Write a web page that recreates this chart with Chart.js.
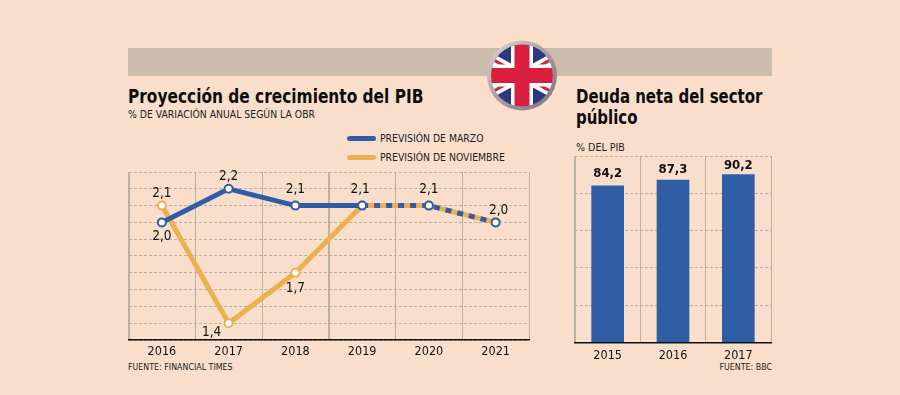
<!DOCTYPE html>
<html lang="es">
<head>
  <meta charset="UTF-8" />
  <title>Proyección de crecimiento del PIB</title>
  <script src="https://cdn.jsdelivr.net/npm/chart.js"></script>
  <style>
    html, body { margin: 0; padding: 0; }
    body {
      position: relative;
      width: 900px;
      height: 395px;
      overflow: hidden;
      background: #f9dfcb;
      color: #111;
      font-family: 'DejaVu Sans', sans-serif;
    }
    canvas, .txt, .band, svg { position: absolute; }
    .band { left: 128px; top: 48px; width: 644px; height: 28px; background: #ccbcae; }
    .txt { white-space: nowrap; }
    .title { font: bold 19px 'DejaVu Sans Condensed', 'DejaVu Sans', sans-serif; color: #0c0c0c; transform-origin: left top; }
    .small { font: 10.35px 'DejaVu Sans Condensed', 'DejaVu Sans', sans-serif; color: #222; }
    .fuente { font-size: 8.8px; }
    .key { position: absolute; left: 347px; width: 29px; height: 5px; border-radius: 3px; }
  </style>
</head>
<body>
  <div class="band"></div>

  <div class="txt title" style="left:128px;top:85px;transform:scaleX(.9)">Proyección de crecimiento del PIB</div>
  <div class="txt small" style="left:128px;top:108px">% DE VARIACIÓN ANUAL SEGÚN LA OBR</div>
  <div class="key" style="top:136px;background:#2f5da6"></div>
  <div class="txt small" style="left:380px;top:132px">PREVISIÓN DE MARZO</div>
  <div class="key" style="top:155px;background:#ecb04f"></div>
  <div class="txt small" style="left:380px;top:151px">PREVISIÓN DE NOVIEMBRE</div>
  <div class="txt small fuente" style="left:128px;top:362px">FUENTE: FINANCIAL TIMES</div>

  <div class="txt title" style="left:576px;top:85px;transform:scaleX(.875)">Deuda neta del sector</div>
  <div class="txt title" style="left:576px;top:106px;transform:scaleX(.875)">público</div>
  <div class="txt small" style="left:576px;top:141px;font-size:10.6px">% DEL PIB</div>
  <div class="txt small fuente" style="right:128px;top:362px">FUENTE: BBC</div>

  <canvas id="graficoPib" style="left:100px;top:160px"></canvas>
  <canvas id="graficoDeuda" style="left:550px;top:145px"></canvas>

  <svg style="left:482px;top:35px" width="80" height="80" viewBox="0 0 80 80">
    <defs>
      <linearGradient id="aro" x1="0" y1="0" x2="1" y2="1">
        <stop offset="0" stop-color="#e3d8d4" />
        <stop offset="0.5" stop-color="#a89c9e" />
        <stop offset="1" stop-color="#7d7377" />
      </linearGradient>
      <clipPath id="disco"><circle cx="40" cy="40.5" r="31" /></clipPath>
    </defs>
    <circle cx="40" cy="40.5" r="35" fill="url(#aro)" />
    <g clip-path="url(#disco)">
      <rect width="80" height="80" fill="#2b3a7c" />
      <path d="M0 18.5L80 62.5M80 18.5L0 62.5" stroke="#fff" stroke-width="10.5" />
      <path d="M0 18.5L80 62.5M80 18.5L0 62.5" stroke="#d81f3f" stroke-width="3" />
      <rect x="29" width="22" height="80" fill="#fff" />
      <rect y="29.5" width="80" height="22" fill="#fff" />
      <rect x="32.5" width="15" height="80" fill="#d81f3f" />
      <rect y="33" width="80" height="15" fill="#d81f3f" />
    </g>
  </svg>

  <script>
    const anios = ['2016', '2017', '2018', '2019', '2020', '2021'];
    const marzo = [2.0, 2.2, 2.1, 2.1, 2.1, 2.0];
    const noviembre = [2.1, 1.4, 1.7, 2.1, 2.1, 2.0];
    const ticksPib = [1.3, 1.4, 1.5, 1.6, 1.7, 1.8, 1.9, 2.0, 2.1, 2.2, 2.3];

    const aniosDeuda = ['2015', '2016', '2017'];
    const deuda = [84.2, 87.3, 90.2];
    const ticksDeuda = [0, 20, 40, 60, 80, 100];

    const AZUL = '#2f5da6';
    const NARANJA = '#ecb04f';
    const GRIS = '#bdb0a5';
    const PUNTOS = '#bcaea2';
    const FUENTE = "'DejaVu Sans Condensed', 'DejaVu Sans', sans-serif";

    function coma(v) { return v.toFixed(1).replace('.', ','); }

    // pone los numeros sobre los puntos; dx/dy por serie y punto
    const etiquetas = {
      id: 'etiquetas',
      afterDatasetsDraw(chart) {
        const c = chart.ctx;
        chart.data.datasets.forEach((ds, i) => {
          const meta = chart.getDatasetMeta(i);
          meta.data.forEach((p, j) => {
            const o = ds.offsets[j];
            if (!o) return;
            c.save();
            c.font = ds.labelFont || '13.5px ' + FUENTE;
            c.fillStyle = '#111';
            c.textAlign = 'center';
            c.textBaseline = 'middle';
            c.fillText(coma(ds.data[j]), p.x + o[0], p.y + o[1]);
            c.restore();
          });
        });
      }
    };

    function setSize(id, w, h) {
      const el = document.getElementById(id);
      el.width = w;
      el.height = h;
      el.style.width = w + 'px';
      el.style.height = h + 'px';
      return el;
    }

    function ejeX(labels, alto, pad, colorGrid, anchoGrid) {
      return {
        type: 'category',
        labels: labels,
        offset: true,
        grid: { color: colorGrid, lineWidth: anchoGrid, drawTicks: false, offset: true },
        border: { color: '#111', width: 1.5 },
        ticks: { color: '#111', font: { family: FUENTE, size: 12.5 }, maxRotation: 0, padding: pad },
        afterFit(s) { s.height = alto; }
      };
    }

    function ejeY(min, max, ticks) {
      return {
        min: min,
        max: max,
        grid: { color: PUNTOS, lineWidth: 1, drawTicks: false },
        border: { display: false, dash: [3, 2] },
        ticks: { display: false },
        afterFit(s) { s.width = 0; },
        afterBuildTicks(s) { s.ticks = ticks.map(v => ({ value: v })); }
      };
    }

    new Chart(setSize('graficoPib', 440, 205), {
      type: 'line',
      data: {
        labels: anios,
        datasets: [
          {
            label: 'PREVISIÓN DE MARZO',
            data: marzo,
            borderColor: AZUL,
            backgroundColor: '#fff',
            borderWidth: 5,
            tension: 0,
            pointRadius: 4,
            pointBorderWidth: 2,
            pointBorderColor: AZUL,
            pointBackgroundColor: '#fff',
            segment: { borderDash: ctx => ctx.p0DataIndex >= 3 ? [6, 6] : undefined },
            offsets: [[0, 14], [0, -12], [0, -16], [-2, -16], [0, -16], [3, -12]]
          },
          {
            label: 'PREVISIÓN DE NOVIEMBRE',
            data: noviembre,
            borderColor: NARANJA,
            backgroundColor: '#fff',
            borderWidth: 5,
            tension: 0,
            pointRadius: 4,
            pointBorderWidth: 2,
            pointBorderColor: NARANJA,
            pointBackgroundColor: '#fff',
            offsets: [[0, -12], [-17, 9], [0, 16], null, null, null]
          }
        ]
      },
      options: {
        responsive: false,
        animation: false,
        layout: { padding: { left: 28.5, right: 11, top: 12, bottom: 0 } },
        plugins: { legend: { display: false }, tooltip: { enabled: false } },
        scales: {
          // la ultima vertical no se dibuja; la primera y la del medio van mas gruesas
          x: ejeX(anios, 25, 4,
            ctx => ctx.index === anios.length ? 'rgba(0,0,0,0)' : GRIS,
            ctx => (ctx.index === 0 || ctx.index === 3) ? 2 : 1),
          y: ejeY(1.3, 2.3, ticksPib)
        }
      },
      plugins: [etiquetas]
    });

    new Chart(setSize('graficoDeuda', 240, 225), {
      type: 'bar',
      data: {
        labels: aniosDeuda,
        datasets: [{
          label: '% DEL PIB',
          data: deuda,
          backgroundColor: AZUL,
          categoryPercentage: 1,
          barPercentage: 0.5,
          labelFont: 'bold 13px ' + FUENTE,
          offsets: [[0, -12], [0, -10], [0, -9]]
        }]
      },
      options: {
        responsive: false,
        animation: false,
        layout: { padding: { left: 25, right: 19, top: 11, bottom: 0 } },
        plugins: { legend: { display: false }, tooltip: { enabled: false } },
        scales: {
          x: ejeX(aniosDeuda, 27.5, 6, GRIS, ctx => ctx.index === 0 ? 2 : 1),
          y: ejeY(0, 100, ticksDeuda)
        }
      },
      plugins: [etiquetas]
    });
  </script>
</body>
</html>
